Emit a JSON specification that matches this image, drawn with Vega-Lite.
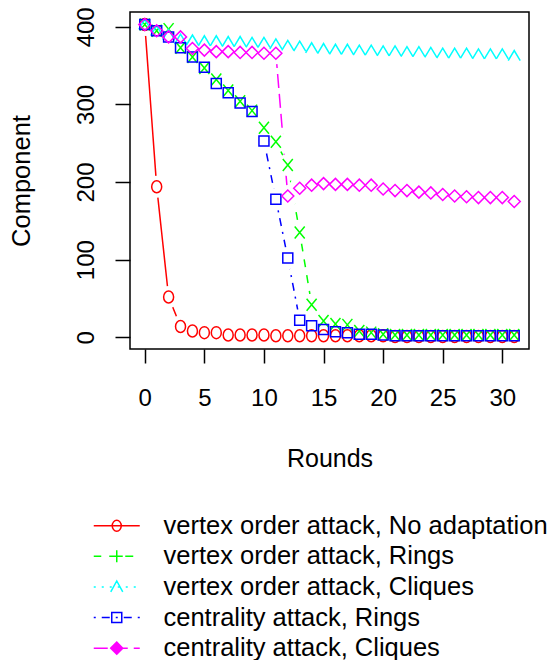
{
  "$schema": "https://vega.github.io/schema/vega-lite/v6.json",
  "autosize": {"type": "none"},
  "width": 399,
  "height": 337,
  "padding": {"left": 130, "top": 12, "right": 23, "bottom": 311},
  "background": "white",
  "datasets": {
    "main": [
      {"s":"vertex order attack, No adaptation","x":0,"y":403},{"s":"vertex order attack, No adaptation","x":1,"y":194},{"s":"vertex order attack, No adaptation","x":2,"y":52},{"s":"vertex order attack, No adaptation","x":3,"y":14},{"s":"vertex order attack, No adaptation","x":4,"y":8},{"s":"vertex order attack, No adaptation","x":5,"y":6},{"s":"vertex order attack, No adaptation","x":6,"y":6},{"s":"vertex order attack, No adaptation","x":7,"y":3},{"s":"vertex order attack, No adaptation","x":8,"y":3},{"s":"vertex order attack, No adaptation","x":9,"y":3},{"s":"vertex order attack, No adaptation","x":10,"y":3},{"s":"vertex order attack, No adaptation","x":11,"y":2},{"s":"vertex order attack, No adaptation","x":12,"y":2},{"s":"vertex order attack, No adaptation","x":13,"y":2},{"s":"vertex order attack, No adaptation","x":14,"y":2},{"s":"vertex order attack, No adaptation","x":15,"y":2},{"s":"vertex order attack, No adaptation","x":16,"y":2},{"s":"vertex order attack, No adaptation","x":17,"y":2},{"s":"vertex order attack, No adaptation","x":18,"y":2},{"s":"vertex order attack, No adaptation","x":19,"y":2},{"s":"vertex order attack, No adaptation","x":20,"y":2},{"s":"vertex order attack, No adaptation","x":21,"y":1},{"s":"vertex order attack, No adaptation","x":22,"y":1},{"s":"vertex order attack, No adaptation","x":23,"y":1},{"s":"vertex order attack, No adaptation","x":24,"y":1},{"s":"vertex order attack, No adaptation","x":25,"y":1},{"s":"vertex order attack, No adaptation","x":26,"y":1},{"s":"vertex order attack, No adaptation","x":27,"y":1},{"s":"vertex order attack, No adaptation","x":28,"y":1},{"s":"vertex order attack, No adaptation","x":29,"y":1},{"s":"vertex order attack, No adaptation","x":30,"y":1},{"s":"vertex order attack, No adaptation","x":31,"y":1},
      {"s":"vertex order attack, Rings","x":0,"y":403},{"s":"vertex order attack, Rings","x":1,"y":395},{"s":"vertex order attack, Rings","x":2,"y":397},{"s":"vertex order attack, Rings","x":3,"y":373},{"s":"vertex order attack, Rings","x":4,"y":361},{"s":"vertex order attack, Rings","x":5,"y":347},{"s":"vertex order attack, Rings","x":6,"y":332},{"s":"vertex order attack, Rings","x":7,"y":318},{"s":"vertex order attack, Rings","x":8,"y":304},{"s":"vertex order attack, Rings","x":9,"y":292},{"s":"vertex order attack, Rings","x":10,"y":270},{"s":"vertex order attack, Rings","x":11,"y":252},{"s":"vertex order attack, Rings","x":12,"y":222},{"s":"vertex order attack, Rings","x":13,"y":135},{"s":"vertex order attack, Rings","x":14,"y":42},{"s":"vertex order attack, Rings","x":15,"y":21},{"s":"vertex order attack, Rings","x":16,"y":17},{"s":"vertex order attack, Rings","x":17,"y":16},{"s":"vertex order attack, Rings","x":18,"y":8},{"s":"vertex order attack, Rings","x":19,"y":6},{"s":"vertex order attack, Rings","x":20,"y":4},{"s":"vertex order attack, Rings","x":21,"y":3},{"s":"vertex order attack, Rings","x":22,"y":3},{"s":"vertex order attack, Rings","x":23,"y":3},{"s":"vertex order attack, Rings","x":24,"y":3},{"s":"vertex order attack, Rings","x":25,"y":3},{"s":"vertex order attack, Rings","x":26,"y":3},{"s":"vertex order attack, Rings","x":27,"y":3},{"s":"vertex order attack, Rings","x":28,"y":3},{"s":"vertex order attack, Rings","x":29,"y":3},{"s":"vertex order attack, Rings","x":30,"y":3},{"s":"vertex order attack, Rings","x":31,"y":3},
      {"s":"vertex order attack, Cliques","x":0,"y":403},{"s":"vertex order attack, Cliques","x":1,"y":395},{"s":"vertex order attack, Cliques","x":2,"y":390},{"s":"vertex order attack, Cliques","x":3,"y":384},{"s":"vertex order attack, Cliques","x":4,"y":383},{"s":"vertex order attack, Cliques","x":5,"y":382},{"s":"vertex order attack, Cliques","x":6,"y":382},{"s":"vertex order attack, Cliques","x":7,"y":381},{"s":"vertex order attack, Cliques","x":8,"y":381},{"s":"vertex order attack, Cliques","x":9,"y":380},{"s":"vertex order attack, Cliques","x":10,"y":380},{"s":"vertex order attack, Cliques","x":11,"y":378},{"s":"vertex order attack, Cliques","x":12,"y":376},{"s":"vertex order attack, Cliques","x":13,"y":375},{"s":"vertex order attack, Cliques","x":14,"y":373},{"s":"vertex order attack, Cliques","x":15,"y":372},{"s":"vertex order attack, Cliques","x":16,"y":371},{"s":"vertex order attack, Cliques","x":17,"y":371},{"s":"vertex order attack, Cliques","x":18,"y":370},{"s":"vertex order attack, Cliques","x":19,"y":370},{"s":"vertex order attack, Cliques","x":20,"y":369},{"s":"vertex order attack, Cliques","x":21,"y":369},{"s":"vertex order attack, Cliques","x":22,"y":368},{"s":"vertex order attack, Cliques","x":23,"y":368},{"s":"vertex order attack, Cliques","x":24,"y":367},{"s":"vertex order attack, Cliques","x":25,"y":366},{"s":"vertex order attack, Cliques","x":26,"y":366},{"s":"vertex order attack, Cliques","x":27,"y":366},{"s":"vertex order attack, Cliques","x":28,"y":365},{"s":"vertex order attack, Cliques","x":29,"y":365},{"s":"vertex order attack, Cliques","x":30,"y":365},{"s":"vertex order attack, Cliques","x":31,"y":363},
      {"s":"centrality attack, Rings","x":0,"y":403},{"s":"centrality attack, Rings","x":1,"y":395},{"s":"centrality attack, Rings","x":2,"y":387},{"s":"centrality attack, Rings","x":3,"y":373},{"s":"centrality attack, Rings","x":4,"y":361},{"s":"centrality attack, Rings","x":5,"y":348},{"s":"centrality attack, Rings","x":6,"y":327},{"s":"centrality attack, Rings","x":7,"y":315},{"s":"centrality attack, Rings","x":8,"y":302},{"s":"centrality attack, Rings","x":9,"y":291},{"s":"centrality attack, Rings","x":10,"y":253},{"s":"centrality attack, Rings","x":11,"y":178},{"s":"centrality attack, Rings","x":12,"y":102},{"s":"centrality attack, Rings","x":13,"y":22},{"s":"centrality attack, Rings","x":14,"y":15},{"s":"centrality attack, Rings","x":15,"y":10},{"s":"centrality attack, Rings","x":16,"y":7},{"s":"centrality attack, Rings","x":17,"y":6},{"s":"centrality attack, Rings","x":18,"y":4},{"s":"centrality attack, Rings","x":19,"y":4},{"s":"centrality attack, Rings","x":20,"y":3},{"s":"centrality attack, Rings","x":21,"y":2},{"s":"centrality attack, Rings","x":22,"y":2},{"s":"centrality attack, Rings","x":23,"y":2},{"s":"centrality attack, Rings","x":24,"y":2},{"s":"centrality attack, Rings","x":25,"y":2},{"s":"centrality attack, Rings","x":26,"y":2},{"s":"centrality attack, Rings","x":27,"y":2},{"s":"centrality attack, Rings","x":28,"y":2},{"s":"centrality attack, Rings","x":29,"y":2},{"s":"centrality attack, Rings","x":30,"y":2},{"s":"centrality attack, Rings","x":31,"y":2},
      {"s":"centrality attack, Cliques","x":0,"y":403},{"s":"centrality attack, Cliques","x":1,"y":395},{"s":"centrality attack, Cliques","x":2,"y":387},{"s":"centrality attack, Cliques","x":3,"y":387},{"s":"centrality attack, Cliques","x":4,"y":372},{"s":"centrality attack, Cliques","x":5,"y":370},{"s":"centrality attack, Cliques","x":6,"y":368},{"s":"centrality attack, Cliques","x":7,"y":368},{"s":"centrality attack, Cliques","x":8,"y":367},{"s":"centrality attack, Cliques","x":9,"y":367},{"s":"centrality attack, Cliques","x":10,"y":366},{"s":"centrality attack, Cliques","x":11,"y":366},{"s":"centrality attack, Cliques","x":12,"y":182},{"s":"centrality attack, Cliques","x":13,"y":192},{"s":"centrality attack, Cliques","x":14,"y":196},{"s":"centrality attack, Cliques","x":15,"y":198},{"s":"centrality attack, Cliques","x":16,"y":197},{"s":"centrality attack, Cliques","x":17,"y":197},{"s":"centrality attack, Cliques","x":18,"y":196},{"s":"centrality attack, Cliques","x":19,"y":196},{"s":"centrality attack, Cliques","x":20,"y":191},{"s":"centrality attack, Cliques","x":21,"y":189},{"s":"centrality attack, Cliques","x":22,"y":189},{"s":"centrality attack, Cliques","x":23,"y":187},{"s":"centrality attack, Cliques","x":24,"y":186},{"s":"centrality attack, Cliques","x":25,"y":184},{"s":"centrality attack, Cliques","x":26,"y":182},{"s":"centrality attack, Cliques","x":27,"y":181},{"s":"centrality attack, Cliques","x":28,"y":180},{"s":"centrality attack, Cliques","x":29,"y":180},{"s":"centrality attack, Cliques","x":30,"y":180},{"s":"centrality attack, Cliques","x":31,"y":175}
    ]
  },
  "data": {"name": "main"},
  "encoding": {
    "x": {
      "field": "x", "type": "quantitative",
      "scale": {"domain": [-1.24, 32.24], "nice": false, "zero": false},
      "axis": {"values": [0,5,10,15,20,25,30], "title": "Rounds", "tickSize": 14, "labelPadding": 42, "labelBaseline": "alphabetic", "labelAlign": "center", "labelFlush": false, "labelOverlap": false, "titleBaseline": "alphabetic", "titleY": 117, "titleFontSize": 25, "zindex": 1}
    },
    "y": {
      "field": "y", "type": "quantitative",
      "scale": {"domain": [-15.08, 419.08], "nice": false, "zero": false},
      "axis": {"values": [0,100,200,300,400], "title": "Component", "tickSize": 15, "labelAngle": 270, "labelAlign": "center", "labelBaseline": "alphabetic", "labelPadding": 22, "labelFlush": false, "labelOverlap": false, "titleAngle": 270, "titleBaseline": "alphabetic", "titleAlign": "center", "titleX": -101, "titleY": 168.5, "titleFontSize": 25.5, "zindex": 1}
    }
  },
  "layer": [
    {
      "mark": {"type": "line", "strokeWidth": 1.5},
      "encoding": {
        "color": {"field": "s", "type": "nominal", "legend": null,
          "scale": {"domain": ["vertex order attack, No adaptation","vertex order attack, Rings","vertex order attack, Cliques","centrality attack, Rings","centrality attack, Cliques"],
                    "range": ["#FF0000","#00FF00","#00FFFF","#0000FF","#FF00FF"]}},
        "strokeDash": {"field": "s", "type": "nominal", "legend": null,
          "scale": {"domain": ["vertex order attack, No adaptation","vertex order attack, Rings","vertex order attack, Cliques","centrality attack, Rings","centrality attack, Cliques"],
                    "range": [[1,0],[8,8],[2,6],[2,6,8,6],[14,6]]}}
      }
    },
    {
      "mark": {"type": "point", "shape": "circle", "filled": true, "color": "white", "opacity": 1, "size": 484, "strokeWidth": 0}
    },
    {
      "mark": {"type": "point", "filled": false, "opacity": 1, "strokeWidth": 1.5, "size": 4},
      "encoding": {
        "color": {"field": "s", "type": "nominal", "legend": null,
          "scale": {"domain": ["vertex order attack, No adaptation","vertex order attack, Rings","vertex order attack, Cliques","centrality attack, Rings","centrality attack, Cliques"],
                    "range": ["#FF0000","#00FF00","#00FFFF","#0000FF","#FF00FF"]}},
        "shape": {"field": "s", "type": "nominal", "legend": null,
          "scale": {"domain": ["vertex order attack, No adaptation","vertex order attack, Rings","vertex order attack, Cliques","centrality attack, Rings","centrality attack, Cliques"],
                    "range": ["M5,0A5,6 0 1 1 -5,0A5,6 0 1 1 5,0","M-5,-6L5,6M-5,6L5,-6","M-6,5L0,-5L6,5","M-5,-5L5,-5L5,5L-5,5Z","M-6,0L0,-6L6,0L0,6Z"]}}
      }
    },
    {
      "mark": {"type": "point", "filled": false, "opacity": 0, "strokeWidth": 1.5, "size": 4},
      "encoding": {
        "color": {"field": "s", "type": "nominal",
          "scale": {"domain": ["vertex order attack, No adaptation","vertex order attack, Rings","vertex order attack, Cliques","centrality attack, Rings","centrality attack, Cliques"],
                    "range": ["#FF0000","#00FF00","#00FFFF","#0000FF","#FF00FF"]},
          "legend": {"orient": "none", "legendX": -26, "legendY": 501, "title": null, "direction": "vertical", "symbolSize": 4, "symbolStrokeWidth": 1.5, "symbolOpacity": 1, "labelFontSize": 25.5, "labelFont": "Liberation Sans", "labelColor": "black", "labelOffset": 34, "labelLimit": 700, "rowPadding": 3.6, "padding": 0}},
        "shape": {"field": "s", "type": "nominal",
          "scale": {"domain": ["vertex order attack, No adaptation","vertex order attack, Rings","vertex order attack, Cliques","centrality attack, Rings","centrality attack, Cliques"],
                    "range": ["M-23,0L23,0M4.5,0A4.5,5.5 0 1 1 -4.5,0A4.5,5.5 0 1 1 4.5,0",
                              "M-23,0L-15.5,0M-7.5,0L0.5,0M8.5,0L16.5,0M-6,0L6,0M0,-6L0,6",
                              "M-23,0L-21,0M-15,0L-13,0M-7,0L-5,0M1,0L3,0M9,0L11,0M17,0L19,0M-6,5L0,-6L6,5",
                              "M-23,0L-21,0M-15,0L-7,0M-1,0L1,0M7,0L15,0M21,0L23,0M-5,-5L5,-5L5,5L-5,5Z",
                              "M-23,0L-9,0M-3,0L11,0M17,0L23,0M-6,0L0,-6L6,0L0,6ZM-4.5,0L0,-4.5L4.5,0L0,4.5ZM-3,0L0,-3L3,0L0,3ZM-1.5,0L0,-1.5L1.5,0L0,1.5Z"]},
          "legend": {"orient": "none", "legendX": -26, "legendY": 501, "title": null, "direction": "vertical", "symbolSize": 4, "symbolStrokeWidth": 1.5, "symbolOpacity": 1, "labelFontSize": 25.5, "labelFont": "Liberation Sans", "labelColor": "black", "labelOffset": 34, "labelLimit": 700, "rowPadding": 3.6, "padding": 0}}
      }
    }
  ],
  "resolve": {"scale": {"color": "independent", "shape": "independent", "strokeDash": "independent"}},
  "config": {
    "view": {"stroke": "black", "strokeWidth": 1.5},
    "axis": {"grid": false, "domain": false, "tickColor": "black", "tickWidth": 1.5, "labelColor": "black", "labelFont": "Liberation Sans", "labelFontSize": 24, "titleFont": "Liberation Sans", "titleFontSize": 24, "titleFontWeight": "normal", "titleColor": "black"}
  }
}
